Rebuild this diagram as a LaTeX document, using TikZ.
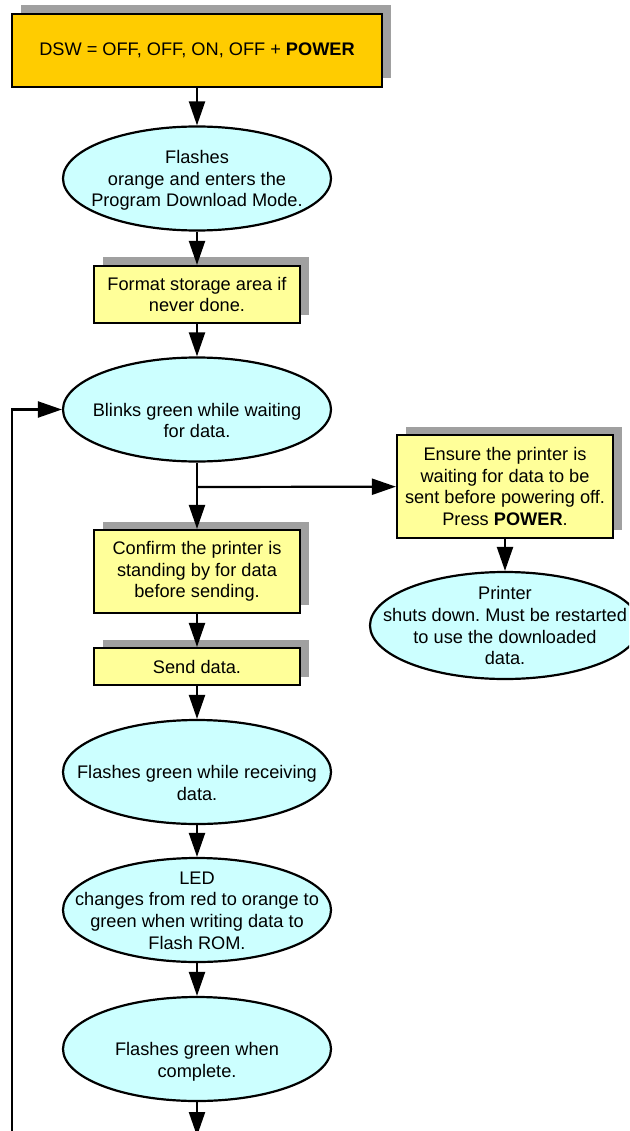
\documentclass[tikz,border=0pt]{standalone}
\usepackage{fontspec}
\setmainfont{Liberation Sans}
\usepackage{tikz}
\usetikzlibrary{arrows.meta, shapes.geometric, shadows}

\definecolor{startorange}{RGB}{255,204,0}
\definecolor{stepyellow}{RGB}{255,255,153}
\definecolor{statecyan}{RGB}{204,255,255}
\definecolor{shadowgray}{RGB}{160,160,160}

% text of an oval, kept out of the size of the oval
\newcommand{\ovaltext}[1]{\smash{\raisebox{-6.7pt}{\makebox[0pt]{\begin{tabular}{@{}c@{}}#1\end{tabular}}}}}

\tikzset{
  every node/.style={font=\fontsize{18.2}{21.7}\selectfont},
  boxshadow/.style={drop shadow={shadow xshift=9pt, shadow yshift=8.5pt, fill=shadowgray, opacity=1}},
  stepbox/.style={rectangle, draw, line width=2.2pt, fill=stepyellow, align=center, inner sep=2pt, minimum width=206pt, boxshadow},
  startbox/.style={stepbox, fill=startorange, minimum width=370pt, minimum height=73pt},
  statenode/.style={ellipse, draw, line width=2.2pt, fill=statecyan, inner sep=0pt, minimum width=268pt, minimum height=104pt},
  flow/.style={-{Triangle[length=24pt, width=16pt]}, line width=2.2pt},
}

\frenchspacing

\begin{document}
\begin{tikzpicture}[x=1pt, y=-1pt]
    \useasboundingbox (0,0) rectangle (629,1131);
    \clip (0,0) rectangle (629,1131);

    % main column
    \node[startbox] (start) at (197,50.5) {DSW = OFF, OFF, ON, OFF + \textbf{POWER}};
    \node[statenode] (flash) at (197,178.5) {\ovaltext{Flashes\\orange and enters the\\Program Download Mode.}};
    \node[stepbox, minimum height=57pt] (format) at (197,294.5) {Format storage area if\\never done.};
    \node[statenode] (blink) at (197,409.5) {\ovaltext{\mbox{}\\Blinks green while waiting\\for data.}};
    \node[stepbox, minimum height=83pt] (confirm) at (197,571.5) {Confirm the printer is\\standing by for data\\before sending.};
    \node[stepbox, minimum height=37pt] (send) at (197,666.5) {Send data.};
    \node[statenode] (receive) at (197,772) {\ovaltext{\mbox{}\\Flashes green while receiving\\data.}};
    \node[statenode] (led) at (197,910) {\ovaltext{LED\\changes from red to orange to\\green when writing data to\\Flash ROM.}};
    \node[statenode] (complete) at (197,1049) {\ovaltext{\mbox{}\\Flashes green when\\complete.}};

    % power off branch
    \node[stepbox, minimum width=216pt, minimum height=103pt] (ensure) at (505,486.5) {Ensure the printer is\\waiting for data to be\\sent before powering off.\\Press \textbf{POWER}.};
    \node[statenode, minimum width=270pt, minimum height=107pt] (shutdown) at (505,625.5) {\ovaltext{Printer\\shuts down. Must be restarted\\to use the downloaded\\data.}};

    \coordinate (split) at (197,487);
    \coordinate (exit) at (197,1136);
    \coordinate (loopfoot) at (12,1136);

    \draw[flow] (start) -- (flash);
    \draw[flow] (flash) -- (format);
    \draw[flow] (format) -- (blink);
    \draw[flow] (blink) -- (confirm);
    \draw[flow] (split) -- (ensure);
    \draw[flow] (ensure) -- (shutdown);
    \draw[flow] (confirm) -- (send);
    \draw[flow] (send) -- (receive);
    \draw[flow] (receive) -- (led);
    \draw[flow] (led) -- (complete);
    \draw[flow] (complete) -- (exit);
    \draw[flow] (loopfoot) |- (blink);
\end{tikzpicture}
\end{document}
